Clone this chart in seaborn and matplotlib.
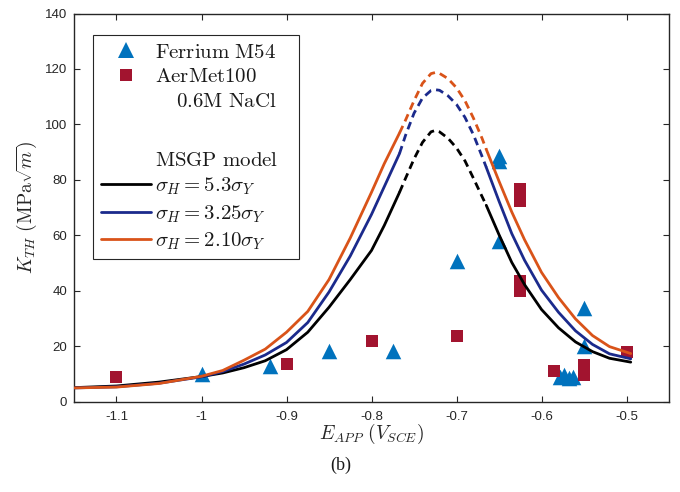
import matplotlib
matplotlib.use("Agg")
import matplotlib.pyplot as plt
import seaborn as sns
import pandas as pd
from matplotlib.lines import Line2D

# ---------------- data ----------------
ferrium_E = [-1.0, -0.92, -0.85, -0.775, -0.70, -0.65, -0.65, -0.65,
             -0.55, -0.55, -0.578, -0.573, -0.568, -0.563]
ferrium_K = [10.0, 12.8, 18.3, 18.3, 50.8, 57.9, 86.6, 88.6,
             33.6, 20.0, 9.0, 9.5, 8.5, 8.7]

aermet_E = [-1.1, -0.9, -0.8, -0.7, -0.625, -0.625, -0.625, -0.625,
            -0.5855, -0.55, -0.55, -0.5]
aermet_K = [8.8, 13.6, 21.7, 23.8, 76.5, 72.5, 43.5, 40.0,
            10.9, 13.0, 9.7, 17.7]

# model curves: solid left branch, dashed peak, solid right branch
E_left = [-1.15, -1.10, -1.05, -1.00, -0.975, -0.95, -0.925, -0.90,
          -0.875, -0.85, -0.825, -0.80, -0.785, -0.767]
E_dash = [-0.767, -0.76, -0.75, -0.74, -0.73, -0.725, -0.72, -0.71,
          -0.70, -0.69, -0.68, -0.67, -0.665]
E_right = [-0.665, -0.65, -0.635, -0.62, -0.60, -0.58, -0.56, -0.54,
           -0.52, -0.495]

black_left = [5.0, 5.6, 7.0, 9.0, 10.3, 12.2, 14.7, 18.7,
              25.0, 34.0, 44.0, 54.5, 63.5, 75.5]
black_dash = [75.5, 80.5, 87.5, 93.5, 97.3, 97.8, 97.3, 95.0,
              91.5, 86.8, 80.5, 74.0, 70.8]
black_right = [70.8, 60.2, 50.2, 42.2, 33.2, 26.6, 21.5, 18.0,
               15.6, 14.2]

blue_left = [4.9, 5.3, 6.6, 8.9, 10.8, 13.5, 16.8, 21.3,
             28.5, 39.5, 52.5, 67.5, 77.5, 89.5]
blue_dash = [89.5, 96.0, 104.0, 109.5, 112.2, 112.5, 112.3, 110.3,
             107.2, 102.5, 96.2, 88.5, 84.5]
blue_right = [84.5, 72.3, 60.6, 51.0, 40.2, 32.2, 25.5, 20.6,
              17.2, 15.4]

orange_left = [4.9, 5.2, 6.5, 9.1, 11.2, 14.9, 18.9, 25.0,
               32.5, 44.0, 59.0, 75.5, 85.8, 96.9]
orange_dash = [96.9, 101.5, 108.5, 114.8, 118.3, 118.7, 118.4, 116.5,
               113.2, 108.5, 102.2, 95.0, 91.0]
orange_right = [91.0, 79.5, 68.4, 58.4, 46.6, 37.5, 29.8, 23.8,
                19.8, 17.3]

curve_labels = [r"$\sigma_H = 5.3\sigma_Y$", r"$\sigma_H = 3.25\sigma_Y$",
                r"$\sigma_H = 2.10\sigma_Y$"]

# ---------------- styling ----------------
sns.set_style("ticks")
plt.rcParams["font.family"] = ["Liberation Sans", "DejaVu Sans"]
plt.rcParams["mathtext.fontset"] = "cm"

C_TRI = "#0072BD"
C_SQ = "#A2142F"
C_BLACK = "#000000"
C_BLUE = "#1B2A8C"
C_ORANGE = "#D95319"
AX_COL = "#262626"

fig = plt.figure(figsize=(6.8, 4.92), dpi=100)
ax = fig.add_axes([74 / 680, 1 - 401.5 / 492, 595 / 680, 388 / 492])

fer = pd.DataFrame({"E": ferrium_E, "K": ferrium_K})
aer = pd.DataFrame({"E": aermet_E, "K": aermet_K})

sns.scatterplot(data=fer, x="E", y="K", marker="^", s=125, color=C_TRI,
                linewidth=0, ax=ax, zorder=2, legend=False)
sns.scatterplot(data=aer, x="E", y="K", marker="s", s=72, color=C_SQ,
                linewidth=0, ax=ax, zorder=2, legend=False)

curves = [
    (black_left, black_dash, black_right, C_BLACK),
    (blue_left, blue_dash, blue_right, C_BLUE),
    (orange_left, orange_dash, orange_right, C_ORANGE),
]
LW = 2.0
for left, dash, right, col in curves:
    sns.lineplot(x=E_left, y=left, color=col, lw=LW, ax=ax, sort=False,
                 estimator=None, legend=False, zorder=3)
    l = sns.lineplot(x=E_dash, y=dash, color=col, lw=LW, ax=ax, sort=False,
                     estimator=None, legend=False, zorder=3)
    l.lines[-1].set_dashes((2.8, 1.8))
    sns.lineplot(x=E_right, y=right, color=col, lw=LW, ax=ax, sort=False,
                 estimator=None, legend=False, zorder=3)

ax.set_xlim(-1.15, -0.45)
ax.set_ylim(0, 140)
ax.set_xticks([-1.1, -1.0, -0.9, -0.8, -0.7, -0.6, -0.5])
ax.set_xticklabels(["-1.1", "-1", "-0.9", "-0.8", "-0.7", "-0.6", "-0.5"])
ax.set_yticks(range(0, 141, 20))
ax.tick_params(direction="in", length=4, width=0.8, top=True, right=True,
               labelsize=9.5, colors=AX_COL, pad=5)
ax.tick_params(axis="x", pad=7)
for sp in ax.spines.values():
    sp.set_visible(True)
    sp.set_linewidth(1.0)
    sp.set_color(AX_COL)

ax.set_xlabel(r"$E_{APP}\ (V_{SCE})$", fontsize=14, color=AX_COL, labelpad=-1)
ax.set_ylabel(r"$K_{TH}\ (\mathrm{MPa}\sqrt{m})$", fontsize=14, color=AX_COL,
              labelpad=4)

# legend
blank = Line2D([], [], linestyle="none")
handles = [
    Line2D([], [], marker="^", color=C_TRI, linestyle="none", markersize=11,
           markeredgewidth=0),
    Line2D([], [], marker="s", color=C_SQ, linestyle="none", markersize=8.4,
           markeredgewidth=0),
    blank, blank, blank,
    Line2D([], [], color=C_BLACK, lw=LW),
    Line2D([], [], color=C_BLUE, lw=LW),
    Line2D([], [], color=C_ORANGE, lw=LW),
]
labels = [r"$\mathrm{Ferrium\ M54}$", r"$\mathrm{AerMet100}$",
          r"$\quad\,\mathrm{0.6M\ NaCl}$", " ", r"$\mathrm{MSGP\ model}$"] + curve_labels
top_frac = (401.5 - 35) / 388
leg = ax.legend(handles, labels, loc="upper left", mode="expand",
                bbox_to_anchor=(19 / 595, 0.0, 206 / 595, top_frac),
                borderaxespad=0, fontsize=15, frameon=True, fancybox=False,
                framealpha=1, edgecolor=AX_COL, handlelength=2.4,
                handletextpad=0.2, labelspacing=0.28, borderpad=0.36)
leg.get_frame().set_linewidth(0.8)
leg.get_texts()[3].set_fontsize(21)
for t in leg.get_texts():
    t.set_color("#1a1a1a")

fig.text(341 / 680, 1 - 465 / 492, "(b)", ha="center", va="center",
         fontsize=13, family=["Liberation Serif", "DejaVu Serif"], color="#1a1a1a")

fig.savefig("out.png", dpi=100)
